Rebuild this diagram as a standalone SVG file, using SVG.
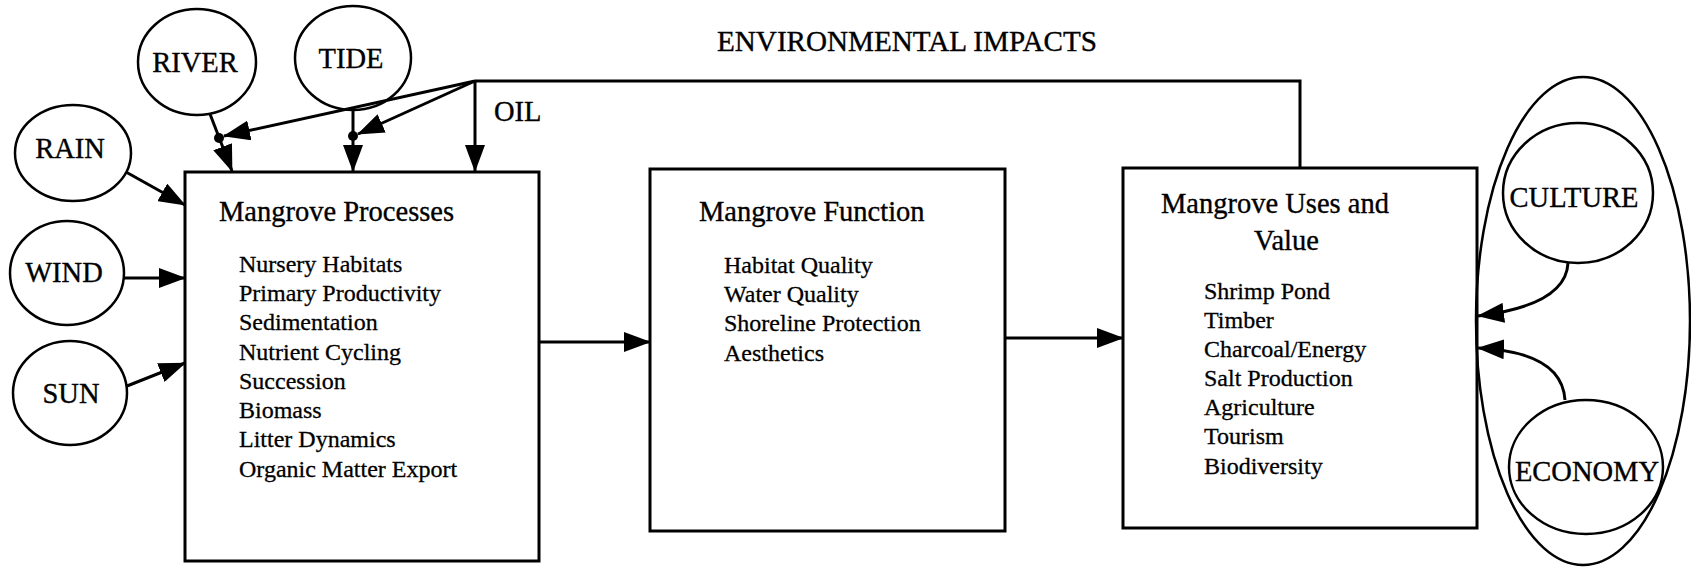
<svg xmlns="http://www.w3.org/2000/svg" width="1691" height="567" viewBox="0 0 1691 567">
  <style>
    .box { fill: #fff; stroke: #000; stroke-width: 3; }
    .oval { fill: #fff; stroke: #000; stroke-width: 2.5; }
    .ring { fill: none; stroke: #000; stroke-width: 2.5; }
    .lbl { font-family: "Liberation Serif", "Times New Roman", serif; font-size: 28.5px; fill: #000; stroke: #000; stroke-width: 0.35; }
    .ctr { text-anchor: middle; }
    .item { font-family: "Liberation Serif", "Times New Roman", serif; font-size: 24px; fill: #000; stroke: #000; stroke-width: 0.3; }
    .wire { fill: none; stroke: #000; stroke-width: 3; }
    .arr { marker-end: url(#head); }
  </style>
  <defs>
    <marker id="head" markerUnits="userSpaceOnUse" markerWidth="27" markerHeight="20" viewBox="0 0 27 20" refX="26" refY="10" orient="auto">
      <path d="M0,0 L27,10 L0,20 z" fill="#000"/>
    </marker>
  </defs>

  <rect width="1691" height="567" fill="#fff"/>

  <!-- heading over the feedback loop -->
  <text class="lbl" x="717" y="51" textLength="380" lengthAdjust="spacingAndGlyphs">ENVIRONMENTAL IMPACTS</text>
  <text class="lbl" x="494" y="121">OIL</text>

  <!-- driver nodes -->
  <g id="river"><ellipse class="oval" cx="197" cy="62" rx="59" ry="53"/><text class="lbl ctr" x="195" y="72">RIVER</text></g>
  <g id="tide"><ellipse class="oval" cx="353" cy="58" rx="58" ry="52"/><text class="lbl ctr" x="351" y="68">TIDE</text></g>
  <g id="rain"><ellipse class="oval" cx="73" cy="153" rx="58" ry="48"/><text class="lbl ctr" x="70" y="158">RAIN</text></g>
  <g id="wind"><ellipse class="oval" cx="67" cy="273" rx="57" ry="52"/><text class="lbl ctr" x="64" y="282">WIND</text></g>
  <g id="sun"><ellipse class="oval" cx="70" cy="393" rx="57" ry="52"/><text class="lbl ctr" x="71" y="403">SUN</text></g>

  <!-- main process boxes -->
  <g id="processes">
    <rect class="box" x="185" y="172" width="354" height="389"/>
    <text class="lbl" x="219" y="221">Mangrove Processes</text>
    <text class="item" x="239" y="272">Nursery Habitats</text>
    <text class="item" x="239" y="301">Primary Productivity</text>
    <text class="item" x="239" y="330">Sedimentation</text>
    <text class="item" x="239" y="360">Nutrient Cycling</text>
    <text class="item" x="239" y="389">Succession</text>
    <text class="item" x="239" y="418">Biomass</text>
    <text class="item" x="239" y="447">Litter Dynamics</text>
    <text class="item" x="239" y="477">Organic Matter Export</text>
  </g>

  <g id="function">
    <rect class="box" x="650" y="169" width="355" height="362"/>
    <text class="lbl" x="699" y="221">Mangrove Function</text>
    <text class="item" x="724" y="273">Habitat Quality</text>
    <text class="item" x="724" y="302">Water Quality</text>
    <text class="item" x="724" y="331">Shoreline Protection</text>
    <text class="item" x="724" y="361">Aesthetics</text>
  </g>

  <g id="uses">
    <rect class="box" x="1123" y="168" width="354" height="360"/>
    <text class="lbl" x="1161" y="213">Mangrove Uses and</text>
    <text class="lbl" x="1254" y="250">Value</text>
    <text class="item" x="1204" y="299">Shrimp Pond</text>
    <text class="item" x="1204" y="328">Timber</text>
    <text class="item" x="1204" y="357">Charcoal/Energy</text>
    <text class="item" x="1204" y="386">Salt Production</text>
    <text class="item" x="1204" y="415">Agriculture</text>
    <text class="item" x="1204" y="444">Tourism</text>
    <text class="item" x="1204" y="474">Biodiversity</text>
  </g>

  <!-- social drivers enclosed in one oval -->
  <g id="society">
    <ellipse class="ring" cx="1583" cy="321" rx="107" ry="244"/>
  </g>
  <g id="culture"><ellipse class="oval" cx="1578" cy="193" rx="75" ry="70"/><text class="lbl ctr" x="1574" y="207">CULTURE</text></g>
  <g id="economy"><ellipse class="oval" cx="1586" cy="467" rx="77" ry="67"/><text class="lbl ctr" x="1587" y="481">ECONOMY</text></g>

  <g id="connectors">
    <path class="wire arr" d="M126,172 L185,205"/>
    <path class="wire arr" d="M124,278 L185,278"/>
    <path class="wire arr" d="M127,386 L185,363"/>
    <path class="wire arr" d="M210,114 L232,171"/>
    <path class="wire arr" d="M353,110 L353,171"/>
    <path class="wire arr" d="M475,81 L224,136"/>
    <path class="wire arr" d="M475,81 L358,134"/>
    <path class="wire arr" d="M475,81 L475,171"/>
    <path class="wire" d="M475,81 L1300,81 L1300,168"/>
    <circle cx="219" cy="138" r="5" fill="#000"/>
    <circle cx="353" cy="136" r="5" fill="#000"/>
    <path class="wire arr" d="M539,342 L650,342"/>
    <path class="wire arr" d="M1005,338 L1123,338"/>
    <path class="wire arr" d="M1568,263 Q1566,305 1478,316"/>
    <path class="wire arr" d="M1565,400 Q1562,352 1478,348"/>
  </g>
</svg>
